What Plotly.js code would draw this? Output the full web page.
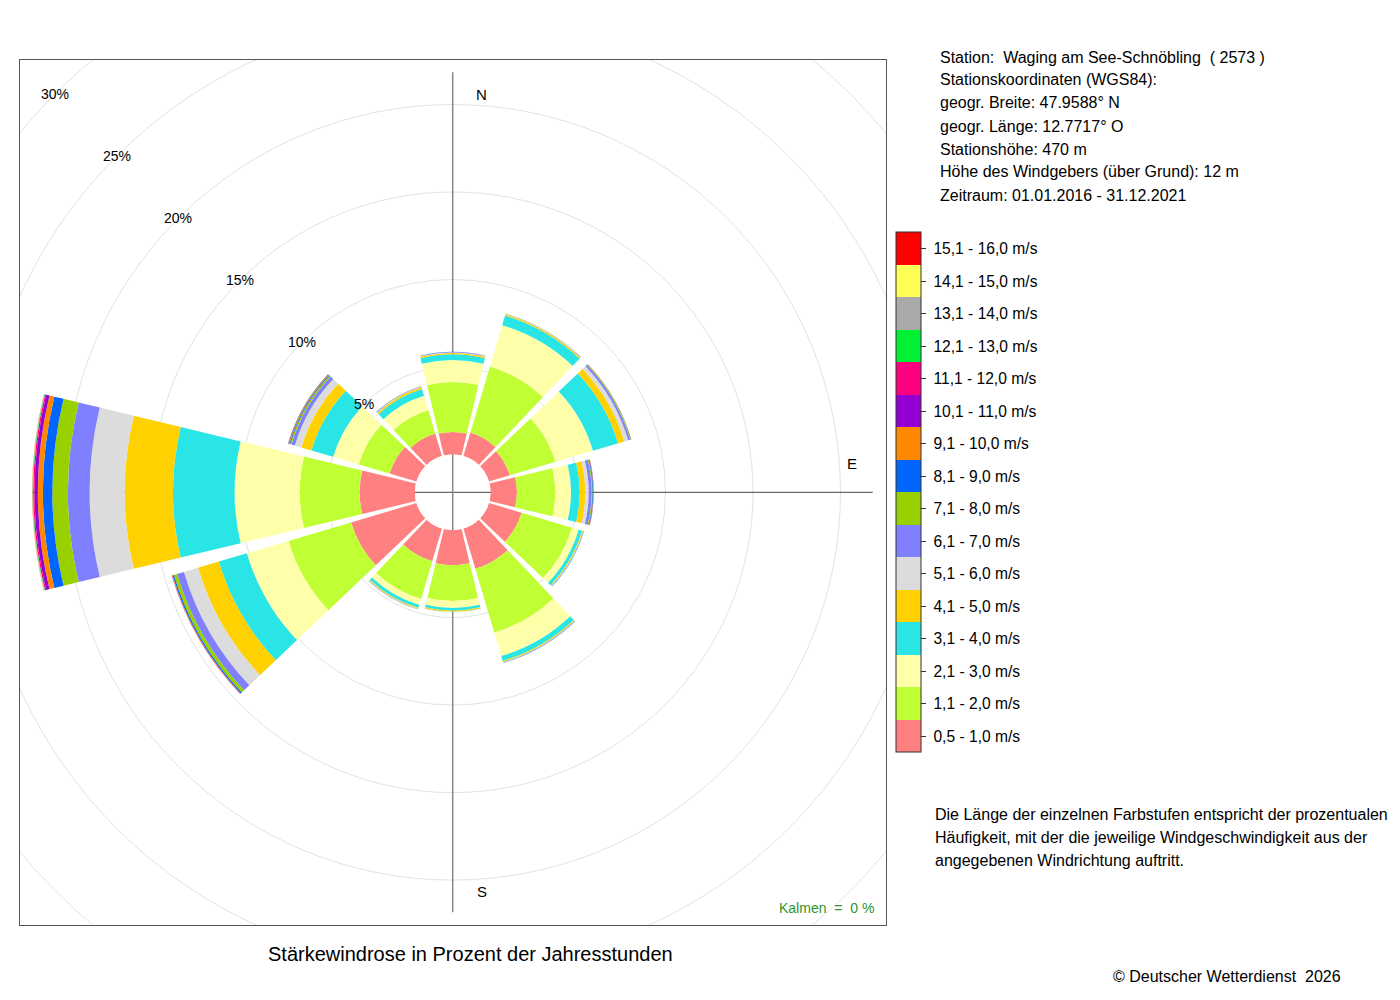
<!DOCTYPE html>
<html>
<head>
<meta charset="utf-8">
<script src="https://cdn.plot.ly/plotly-3.0.1.min.js"></script>
<style>html,body{margin:0;padding:0;background:#fff;}#chart{width:1400px;height:1000px;}</style>
</head>
<body>
<div id="chart"></div>
<script>
// ---- data ----
const directions = [0, 30, 60, 90, 120, 150, 180, 210, 240, 270, 300, 330];
const speedLabels = ['0,5 - 1,0 m/s','1,1 - 2,0 m/s','2,1 - 3,0 m/s','3,1 - 4,0 m/s','4,1 - 5,0 m/s',
  '5,1 - 6,0 m/s','6,1 - 7,0 m/s','7,1 - 8,0 m/s','8,1 - 9,0 m/s','9,1 - 10,0 m/s','10,1 - 11,0 m/s',
  '11,1 - 12,0 m/s','12,1 - 13,0 m/s','13,1 - 14,0 m/s','14,1 - 15,0 m/s','15,1 - 16,0 m/s'];
const speedColors = ['#FF8080','#C0FF33','#FFFFAA','#2AE5E5','#FFD100','#DCDCDC','#8080FF','#99D100',
  '#0066FF','#FF8800','#9400D3','#FF0080','#00F033','#AAAAAA','#FFFF55','#FF0000'];
// percent of hours per direction (N, 30, 60, E, 120, 150, S, 210, 240, W, 300, 330)
const s01 = [1.29, 1.40, 1.25, 1.51, 1.95, 2.40, 2.01, 1.95, 3.90, 3.16, 1.60, 1.35];
const s02 = [2.85, 3.94, 2.72, 2.19, 3.00, 3.80, 2.04, 2.25, 3.73, 3.42, 1.85, 1.40];
const s03 = [1.26, 2.46, 2.23, 0.90, 0.40, 1.40, 0.40, 0.35, 2.48, 3.72, 1.52, 0.85];
const s04 = [0.32, 0.57, 1.50, 0.50, 0.20, 0.29, 0.15, 0.17, 1.67, 3.52, 1.29, 0.40];
const s05 = [0.08, 0.07, 0.37, 0.32, 0.05, 0.06, 0.05, 0.05, 1.24, 2.76, 0.60, 0.10];
const s06 = [0.03, 0.02, 0.23, 0.19, 0.02, 0.02, 0.01, 0.02, 0.84, 2.00, 0.39, 0.03];
const s07 = [0.02, 0.02, 0.12, 0.17, 0.02, 0.02, 0.01, 0.02, 0.41, 1.24, 0.20, 0.03];
const s08 = [0.01, 0.01, 0.04, 0.05, 0.01, 0.01, 0.01, 0.01, 0.19, 0.89, 0.08, 0.01];
const s09 = [0.01, 0.01, 0.02, 0.04, 0.01, 0.01, 0.00, 0.01, 0.08, 0.54, 0.05, 0.01];
const s10 = [0.005, 0.00, 0.01, 0.02, 0.00, 0.00, 0.00, 0.00, 0.03, 0.29, 0.03, 0.00];
const s11 = [0.00, 0.00, 0.00, 0.01, 0.00, 0.00, 0.00, 0.00, 0.01, 0.19, 0.02, 0.00];
const s12 = [0.00, 0.00, 0.00, 0.00, 0.00, 0.00, 0.00, 0.00, 0.01, 0.07, 0.02, 0.00];
const s13 = [0.00, 0.00, 0.00, 0.00, 0.00, 0.00, 0.00, 0.00, 0.00, 0.03, 0.01, 0.00];
const s14 = [0.00, 0.00, 0.00, 0.00, 0.00, 0.00, 0.00, 0.00, 0.00, 0.02, 0.00, 0.00];
const s15 = [0.00, 0.00, 0.00, 0.00, 0.00, 0.00, 0.00, 0.00, 0.00, 0.01, 0.00, 0.00];
const s16 = [0.00, 0.00, 0.00, 0.00, 0.00, 0.00, 0.00, 0.00, 0.00, 0.01, 0.00, 0.00];
const ringValues = [5, 10, 15, 20, 25, 30];
const stationLines = ['Station:\u00a0 Waging am See-Schnöbling \u00a0( 2573 )', 'Stationskoordinaten (WGS84):',
  'geogr. Breite: 47.9588° N', 'geogr. Länge: 12.7717° O', 'Stationshöhe: 470 m',
  'Höhe des Windgebers (über Grund): 12 m', 'Zeitraum: 01.01.2016 - 31.12.2021'];
const noteLines = ['Die Länge der einzelnen Farbstufen entspricht der prozentualen',
  'Häufigkeit, mit der die jeweilige Windgeschwindigkeit aus der', 'angegebenen Windrichtung auftritt.'];
const calmPercent = 0;

// ---- geometry ----
const W = 1400, H = 1000;
const CX = 452.7, CY = 492.3;       // centre of rose (px)
const HOLE = 37.8, K = 17.5;        // hole radius px, px per percent
const RMAX = 23;                     // radial range of polar
const RP = HOLE + K * RMAX;
const BOX = {l: 20, r: 886, t: 60, b: 925};
const AXLEN = 420;
const FONT = 'Liberation Sans, Arial, Helvetica, sans-serif';

const series = [s01,s02,s03,s04,s05,s06,s07,s08,s09,s10,s11,s12,s13,s14,s15,s16];
const n = speedColors.length;
const colorscale = [];
speedColors.forEach((c, i) => { colorscale.push([i / n, c]); colorscale.push([(i + 1) / n, c]); });

const traces = series.map((vals, i) => ({
  type: 'barpolar', r: vals, theta: directions, width: 27,
  subplot: 'polar', name: speedLabels[i], hoverinfo: 'skip',
  marker: {
    color: vals.map(() => i), colorscale: colorscale, cmin: -0.5, cmax: n - 0.5,
    line: {width: 0}, showscale: i === 0,
    colorbar: i === 0 ? {
      x: 895.7 / W, xanchor: 'left', xref: 'container', xpad: 0,
      y: 1 - 492.3 / H, yanchor: 'middle', yref: 'container', ypad: 0,
      thickness: 25, thicknessmode: 'pixels', len: 520, lenmode: 'pixels',
      outlinecolor: '#333', outlinewidth: 1, borderwidth: 0,
      tickmode: 'array', tickvals: speedLabels.map((_, j) => j), ticktext: speedLabels.map(s => '\u00a0' + s),
      ticks: 'outside', ticklen: 5, tickwidth: 1, tickcolor: '#333',
      tickfont: {family: FONT, size: 15.6, color: '#000'}
    } : undefined
  }
}));
traces.push({type: 'scatter', x: [], y: [], xaxis: 'x', yaxis: 'y', hoverinfo: 'skip', showlegend: false});

const shapes = [];
ringValues.forEach(p => {
  const R = HOLE + K * p;
  shapes.push({type: 'circle', xref: 'x', yref: 'y', x0: -R, x1: R, y0: -R, y1: R,
    line: {color: '#E2E2E2', width: 1}, layer: 'below'});
});
shapes.push({type: 'line', xref: 'x', yref: 'y', x0: -AXLEN, x1: AXLEN, y0: 0, y1: 0, line: {color: '#444', width: 1}, layer: 'below'});
shapes.push({type: 'line', xref: 'x', yref: 'y', x0: 0, x1: 0, y0: -AXLEN, y1: AXLEN, line: {color: '#888', width: 1.5}, layer: 'below'});

const annotations = [];
ringValues.forEach(p => {
  const R = HOLE + K * p;
  annotations.push({xref: 'x', yref: 'y', x: -R / Math.SQRT2, y: R / Math.SQRT2, text: p + '%', showarrow: false,
    font: {family: FONT, size: 14, color: '#000'}});
});
[['N', 29, 398], ['E', 399, 29], ['S', 29, -399]].forEach(([t, x, y]) => {
  annotations.push({xref: 'x', yref: 'y', x: x, y: y, text: t, showarrow: false, font: {family: FONT, size: 15, color: '#000'}});
});
stationLines.forEach((t, i) => {
  annotations.push({xref: 'paper', yref: 'paper', x: 938 / W, y: 1 - (57 + 23 * i) / H, xanchor: 'left', yanchor: 'middle',
    text: t, showarrow: false, font: {family: FONT, size: 16, color: '#000'}});
});
noteLines.forEach((t, i) => {
  annotations.push({xref: 'paper', yref: 'paper', x: 933 / W, y: 1 - (814 + 23 * i) / H, xanchor: 'left', yanchor: 'middle',
    text: t, showarrow: false, font: {family: FONT, size: 16, color: '#000'}});
});
annotations.push({xref: 'paper', yref: 'paper', x: 470.5 / W, y: 1 - 954 / H, xanchor: 'center', yanchor: 'middle',
  text: 'Stärkewindrose in Prozent der Jahresstunden', showarrow: false, font: {family: FONT, size: 20, color: '#000'}});
annotations.push({xref: 'paper', yref: 'paper', x: 1343 / W, y: 1 - 976 / H, xanchor: 'right', yanchor: 'middle',
  text: '© Deutscher Wetterdienst\u00a0 2026', showarrow: false, font: {family: FONT, size: 16, color: '#000'}});
annotations.push({xref: 'paper', yref: 'paper', x: 876 / W, y: 1 - 908 / H, xanchor: 'right', yanchor: 'middle',
  text: 'Kalmen\u00a0 =\u00a0 ' + calmPercent + ' %', showarrow: false, font: {family: FONT, size: 14, color: '#2E962E'}});

const layout = {
  width: W, height: H, margin: {l: 0, r: 0, t: 0, b: 0, pad: 0, autoexpand: false}, paper_bgcolor: '#fff', plot_bgcolor: 'rgba(0,0,0,0)',
  showlegend: false, font: {family: FONT},
  xaxis: {domain: [BOX.l / W, BOX.r / W], range: [BOX.l - CX, BOX.r - CX], showgrid: false, zeroline: false,
    showticklabels: false, ticks: '', showline: true, mirror: true, linecolor: '#555', linewidth: 1.2, fixedrange: true},
  yaxis: {domain: [1 - BOX.b / H, 1 - BOX.t / H], range: [CY - BOX.b, CY - BOX.t], showgrid: false, zeroline: false,
    showticklabels: false, ticks: '', showline: true, mirror: true, linecolor: '#555', linewidth: 1.2, fixedrange: true},
  polar: {
    domain: {x: [(CX - RP) / W, (CX + RP) / W], y: [(H - CY - RP) / H, (H - CY + RP) / H]},
    hole: HOLE / RP, bgcolor: 'rgba(0,0,0,0)', barmode: 'stack',
    radialaxis: {range: [0, RMAX], visible: false, showgrid: false, showline: false, showticklabels: false, ticks: ''},
    angularaxis: {rotation: 90, direction: 'clockwise', showgrid: false, showline: false, showticklabels: false, ticks: ''}
  },
  shapes: shapes, annotations: annotations
};
Plotly.newPlot('chart', traces, layout, {displayModeBar: false, staticPlot: true});
</script>
</body>
</html>
